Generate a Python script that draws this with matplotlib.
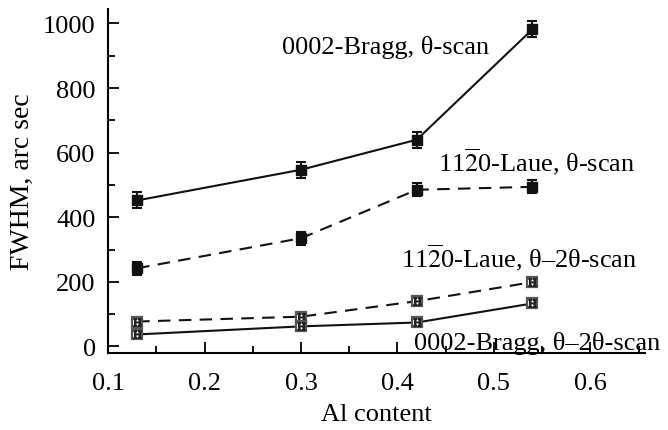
import numpy as np
import matplotlib
matplotlib.use('Agg')
import matplotlib.pyplot as plt
from matplotlib.ticker import MultipleLocator

plt.rcParams['font.family'] = ['Liberation Serif', 'DejaVu Serif']
plt.rcParams['mathtext.fontset'] = 'stix'

# Al content
al = [0.13, 0.30, 0.42, 0.54]

# FWHM values, arc sec
bragg_theta = [452, 547, 640, 982]
laue_theta = [242, 335, 485, 494]
laue_2theta = [77, 92, 140, 199]
bragg_2theta = [37, 62, 74, 133]

err_bragg_theta = [25, 25, 25, 25]
err_laue_theta = [20, 20, 20, 20]

labels = ['0002-Bragg, θ-scan',
          r'11$\overline{\mathrm{2}}$0-Laue, θ-scan',
          r'11$\overline{\mathrm{2}}$0-Laue, θ–2θ-scan',
          '0002-Bragg, θ–2θ-scan']

fig = plt.figure(figsize=(6.68, 4.31), dpi=100)
ax = fig.add_axes([0.162, 0.179, 0.804, 0.798])

k = '#111111'

# filled series
ax.errorbar(al, bragg_theta, yerr=err_bragg_theta, fmt='s-', color=k,
            ms=7.5, lw=1.5, capsize=3.5, elinewidth=1.5, capthick=1.5)
ax.errorbar(al, laue_theta, yerr=err_laue_theta, fmt='s--', color=k,
            ms=7, lw=1.5, capsize=3.5, elinewidth=1.5, capthick=1.5,
            dashes=(6, 4))

# open series (square with small "H" inside)
for ys, ls in [(laue_2theta, (0, (6, 4))), (bragg_2theta, '-')]:
    ax.plot(al, ys, color=k, lw=1.5, ls=ls)
    ax.plot(al, ys, 's', ms=7.5, mfc='white', mec='#555555', mew=1.6)
    ax.plot(al, ys, ls='none', marker='$\\mathrm{H}$', ms=5.5, color='#222222')

fs = 19
ax.text(0.280, 929, labels[0], fontsize=fs, ha='left', va='center')
ax.text(0.442, 574, labels[1], fontsize=fs, ha='left', va='center')
ax.text(0.649, 278, labels[2], fontsize=fs, ha='right', va='center')
ax.text(0.672, 12, labels[3], fontsize=fs, ha='right', va='center')

ax.set_xlim(0.1, 0.657)
ax.set_ylim(-20, 1045)
ax.xaxis.set_major_locator(MultipleLocator(0.1))
ax.xaxis.set_minor_locator(MultipleLocator(0.05))
ax.yaxis.set_major_locator(MultipleLocator(200))
ax.yaxis.set_minor_locator(MultipleLocator(100))
ax.tick_params(which='both', direction='in', labelsize=fs, width=1.3)
ax.tick_params(axis='x', pad=14)
ax.tick_params(axis='y', pad=9)
ax.tick_params(which='major', length=8)
ax.tick_params(which='minor', length=5)
for s in ['top', 'right']:
    ax.spines[s].set_visible(False)
for s in ['left', 'bottom']:
    ax.spines[s].set_linewidth(1.5)

ax.set_xlabel('Al content', fontsize=fs, labelpad=6)
ax.set_ylabel('FWHM, arc sec', fontsize=20, labelpad=6)

fig.savefig('out.png', dpi=100)
